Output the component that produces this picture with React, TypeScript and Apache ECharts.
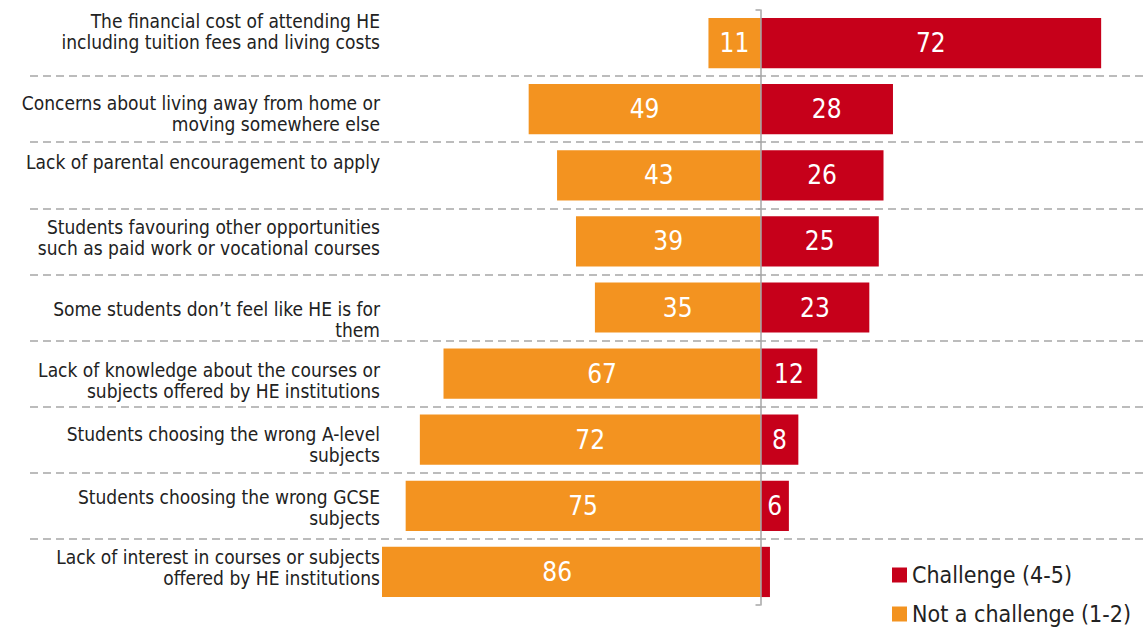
import React, { useEffect, useRef } from "react";
import * as echarts from "echarts";

const categories = [
  "The financial cost of attending HE\nincluding tuition fees and living costs",
  "Concerns about living away from home or\nmoving somewhere else",
  "Lack of parental encouragement to apply",
  "Students favouring other opportunities\nsuch as paid work or vocational courses",
  "Some students don\u2019t feel like HE is for\nthem",
  "Lack of knowledge about the courses or\nsubjects offered by HE institutions",
  "Students choosing the wrong A-level\nsubjects",
  "Students choosing the wrong GCSE\nsubjects",
  "Lack of interest in courses or subjects\noffered by HE institutions",
];
const challenge = [72, 28, 26, 25, 23, 12, 8, 6, 2];
const notChallenge = [11, 49, 43, 39, 35, 67, 72, 75, 86];
const seriesNames = ["Challenge (4-5)", "Not a challenge (1-2)"];

// layout styling: vertical nudge (px) of each category label, as in the original
const labelNudge = [-11, 3, -11, -3, 11, 6, 4, 1, -3];

const RED = "#C6001A";
const ORANGE = "#F39320";
const FONT = "'DejaVu Sans Condensed', 'DejaVu Sans', sans-serif";
const LABEL_SIZE = 19;
const LABEL_LH = 23;

export default function App() {
  const ref = useRef<HTMLDivElement>(null);
  useEffect(() => {
    if (!ref.current) return;
    const chart = echarts.init(ref.current, undefined, { renderer: "svg" });
    const gridTop = 10;
    const gridBottom = 27;
    const rich: Record<string, any> = {};
    labelNudge.forEach((n, i) => {
      rich["s" + i] = {
        fontSize: LABEL_SIZE,
        fontFamily: FONT,
        color: "#222",
        lineHeight: LABEL_LH + 2 * Math.abs(n),
        verticalAlign: n < 0 ? "top" : "bottom",
      };
    });
    const labelFormatter = (value: string, idx: number) => {
      const n = labelNudge[idx] || 0;
      if (n === 0) return value;
      const lines = value.split("\n");
      const k = n < 0 ? lines.length - 1 : 0;
      lines[k] = "{s" + idx + "|" + lines[k] + "}";
      return lines.join("\n");
    };
    chart.setOption({
      animation: false,
      textStyle: { fontFamily: FONT },
      legend: {
        orient: "vertical",
        left: 892,
        top: 563,
        height: 69,
        padding: 0,
        itemWidth: 15,
        itemHeight: 15,
        itemGap: 15,
        icon: "rect",
        data: seriesNames,
        textStyle: { fontSize: 23, lineHeight: 24, color: "#222", fontFamily: FONT },
      },
      grid: [
        { left: 382, right: 7, top: gridTop, bottom: gridBottom },
        { left: 30, right: 0, top: gridTop, bottom: gridBottom },
      ],
      xAxis: [
        { type: "value", gridIndex: 0, min: -80, max: 80, show: false },
        { type: "value", gridIndex: 1, min: 0, max: 1, show: false },
      ],
      yAxis: [
        {
          type: "category",
          gridIndex: 0,
          inverse: true,
          data: categories,
          axisLine: { show: true, onZero: true, lineStyle: { color: "#A6A6A6", width: 1.5 } },
          axisTick: { show: true, length: 5, lineStyle: { color: "#A6A6A6", width: 1.5 } },
          axisLabel: { show: false },
          splitLine: { show: false },
          z: 5,
        },
        {
          type: "category",
          gridIndex: 0,
          inverse: true,
          data: categories,
          position: "left",
          axisLine: { show: false, onZero: false },
          axisTick: { show: false },
          axisLabel: {
            show: true,
            margin: 2,
            fontSize: LABEL_SIZE,
            lineHeight: LABEL_LH,
            color: "#222",
            fontFamily: FONT,
            align: "right",
            formatter: labelFormatter,
            rich,
          },
          splitLine: { show: false },
        },
        {
          type: "category",
          gridIndex: 1,
          inverse: true,
          data: categories,
          axisLine: { show: false },
          axisTick: { show: false },
          axisLabel: { show: false },
          splitLine: {
            show: true,
            showMinLine: false,
            showMaxLine: false,
            lineStyle: { color: "#A6A6A6", width: 1.5, type: [8, 5] },
          },
        },
      ],
      series: [
        {
          name: seriesNames[0],
          type: "bar",
          xAxisIndex: 0,
          yAxisIndex: 0,
          data: challenge,
          barWidth: "76%",
          barGap: "-100%",
          itemStyle: { color: RED },
          label: {
            show: true,
            position: "inside",
            color: "#fff",
            fontSize: 26,
            fontFamily: FONT,
            formatter: (p: any) => (Math.abs(p.value) < 4 ? "" : String(Math.abs(p.value))),
          },
          z: 3,
        },
        {
          name: seriesNames[1],
          type: "bar",
          xAxisIndex: 0,
          yAxisIndex: 0,
          data: notChallenge.map((v) => {
            const val = -v;
            // the bar runs past the axis minimum and is clipped; keep its label centred on the full bar
            return v > 80 ? { value: val, label: { offset: [-(v - 80) * 2.35, 0] } } : val;
          }),
          barWidth: "76%",
          barGap: "-100%",
          itemStyle: { color: ORANGE },
          label: {
            show: true,
            position: "inside",
            color: "#fff",
            fontSize: 26,
            fontFamily: FONT,
            formatter: (p: any) => String(Math.abs(p.value)),
          },
          z: 3,
        },
      ],
    });
    return () => chart.dispose();
  }, []);
  return <div ref={ref} style={{ width: 1146, height: 632, position: "absolute", left: 0, top: 0 }} />;
}
